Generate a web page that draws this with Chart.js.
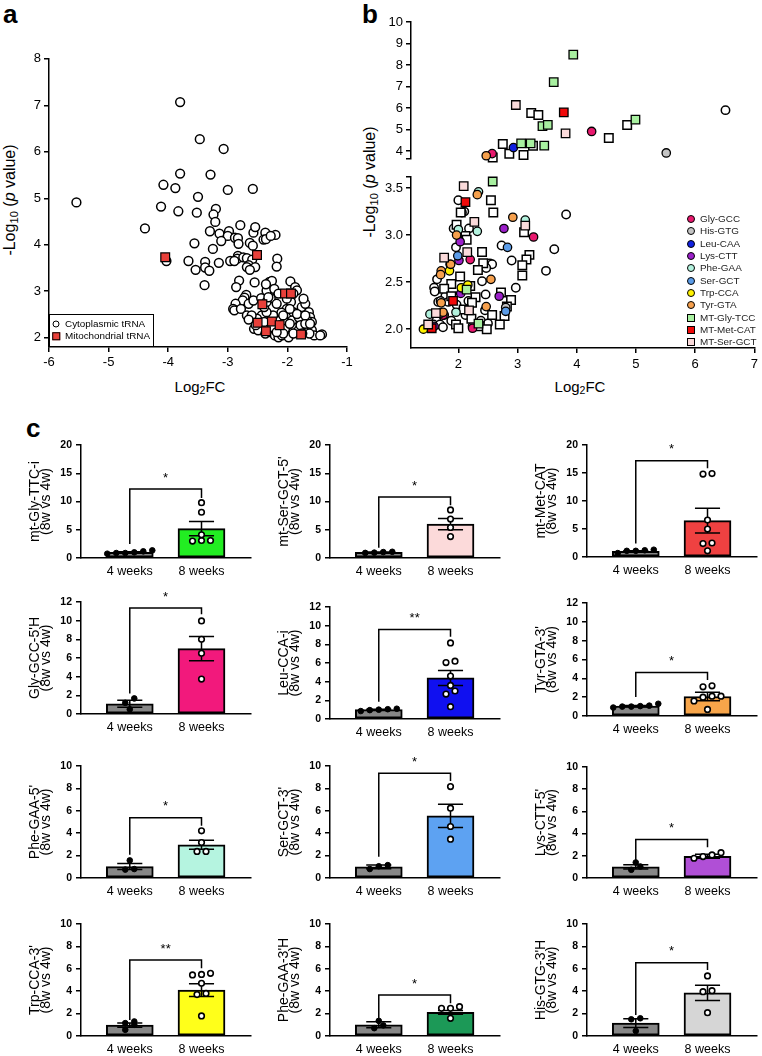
<!DOCTYPE html>
<html>
<head>
<meta charset="utf-8">
<script src="https://cdn.jsdelivr.net/npm/chart.js@4.4.1/dist/chart.umd.min.js"></script>
<style>
  body { margin: 0; background: #fff; font-family: 'Liberation Sans', Arial, Helvetica, sans-serif; color: #000; }
  #page { position: relative; width: 762px; height: 1056px; overflow: hidden; background: #fff; }
  #page canvas { position: absolute; }
  .pl { position: absolute; font-weight: bold; font-size: 26px; line-height: 26px; }
  .yt { position: absolute; white-space: nowrap; font-size: 16px; line-height: 1; transform: translate(-50%, -50%) rotate(-90deg); }
  .xt { position: absolute; white-space: nowrap; font-size: 15px; line-height: 1; transform: translate(-50%, -50%); }
  sub { font-size: 0.7em; vertical-align: -0.25em; line-height: 0; }
  .lg { position: absolute; white-space: nowrap; font-size: 9.9px; line-height: 1; transform: translateY(-50%); }
  .mk { position: absolute; box-sizing: border-box; border: 1.3px solid #000; transform: translate(-50%, -50%); }
</style>
</head>
<body>
<div id="page">
  <div class="pl" style="left:3px;top:1px">a</div>
  <div class="pl" style="left:362px;top:1px">b</div>
  <div class="pl" style="left:26px;top:415px">c</div>
  <div class="yt" style="left:10px;top:200px">-Log<sub>10</sub> (<i>p</i> value)</div>
  <div class="yt" style="left:370px;top:182px">-Log<sub>10</sub> (<i>p</i> value)</div>
  <div class="xt" style="left:200px;top:386px">Log<sub>2</sub>FC</div>
  <div class="xt" style="left:580px;top:386px">Log<sub>2</sub>FC</div>
  <div style="position:absolute;left:49px;top:314px;width:105px;height:33px;border:1px solid #000;box-sizing:border-box;background:#fff"></div>
</div>
<script>
Chart.defaults.font.family = "'Liberation Sans', Arial, Helvetica, sans-serif";
Chart.defaults.color = '#000';
Chart.defaults.animation = false;
Chart.defaults.events = [];

// ---- panel a: down-regulated tRNA fragments (Log2FC, -log10 p)
const cytoplasmicA = [
  [-5.54,4.91],[-4.39,4.35],[-4.12,4.82],[-4.08,5.29],[-3.88,5.22],[-3.80,7.07],[-3.80,5.53],[-3.83,4.72],
  [-3.47,6.27],[-3.50,5.03],[-3.52,4.69],[-3.29,5.51],[-3.07,6.06],[-3.00,5.18],[-2.58,5.20],[-3.20,4.77],
  [-3.24,4.65],[-3.21,4.49],[-3.30,4.29],[-3.14,4.24],[-2.98,4.29],[-3.00,4.19],[-3.11,4.08],[-3.25,3.91],
  [-3.56,4.03],[-3.66,3.65],[-3.54,3.46],[-3.38,3.63],[-3.38,3.51],[-3.31,3.44],[-3.39,3.13],[-3.15,3.61],
  [-4.03,3.65],[-2.79,4.42],[-2.88,4.15],[-2.83,4.14],[-2.82,4.02],[-2.63,4.04],[-2.58,3.98],[-2.57,4.26],
  [-2.54,4.38],[-2.37,4.26],[-2.40,4.11],[-2.36,4.12],[-2.20,4.21],[-2.28,4.19],[-2.83,3.76],[-2.84,3.70],
  [-2.74,3.73],[-2.68,3.71],[-2.59,3.68],[-2.65,3.56],[-2.68,3.52],[-2.54,3.52],[-2.63,3.46],[-2.96,3.65],
  [-2.89,3.65],[-2.17,3.70],[-2.18,3.53],[-2.55,3.19],[-2.81,3.23],[-2.86,3.09],[-2.69,2.92],[-2.72,2.86],
  [-2.75,2.80],[-2.87,2.73],[-2.91,2.62],[-2.89,2.59],[-2.78,2.62],[-2.68,2.48],[-2.65,2.73],[-2.57,2.80],
  [-2.44,2.85],[-2.35,3.01],[-2.30,3.20],[-2.26,3.22],[-2.36,3.15],[-2.22,3.05],[-2.28,2.85],[-2.18,2.73],
  [-1.95,3.21],[-1.87,3.09],[-1.84,3.02],[-1.94,2.77],[-1.76,2.66],[-1.70,2.73],[-1.73,2.84],[-1.64,2.55],
  [-1.62,2.44],[-1.59,2.34],[-1.67,2.37],[-1.76,2.37],[-1.84,2.44],[-1.90,2.55],[-2.01,2.62],[-2.07,2.41],
  [-2.10,2.54],[-2.18,2.37],[-2.28,2.37],[-2.37,2.27],[-2.43,2.48],[-2.51,2.41],[-2.56,2.19],[-2.49,2.16],
  [-2.37,2.09],[-2.29,2.12],[-2.21,2.05],[-2.15,2.01],[-2.09,2.05],[-1.99,2.09],[-1.98,2.01],[-2.07,2.16],
  [-1.96,2.19],[-1.90,2.27],[-1.81,2.16],[-1.73,2.16],[-1.64,2.19],[-1.59,2.16],[-1.55,2.05],[-1.42,2.07],
  [-1.45,2.05],[-2.26,2.23],[-2.12,2.27],[-2.01,2.32],[-1.92,2.37],[-1.81,2.44],[-2.07,2.48],[-2.24,2.48],
  [-2.35,2.55],[-2.01,2.84],[-1.90,2.95],[-2.15,2.95],[-2.39,2.66],[-2.35,2.77],[-2.32,2.87],[-2.60,2.48],
  [-2.65,2.39],[-2.39,2.34],[-2.53,2.27],[-2.04,2.19],[-1.78,2.27],[-1.70,2.30],[-1.63,2.09],[-2.07,2.09],
  [-1.90,2.09],[-1.96,2.30],[-2.18,2.12],[-1.84,2.51],[-1.96,2.62],[-1.70,2.48],[-1.62,2.30],[-1.75,2.09]
];
const mitochondrialA = [
  [-4.05,3.73],[-2.51,3.78],[-2.04,2.95],[-1.94,2.95],[-2.42,2.72],[-2.50,2.32],[-2.26,2.35],[-2.13,2.27],
  [-2.36,2.14],[-1.77,2.07]
];
const xTicksA = [-6, -5, -4, -3, -2, -1];
const yTicksA = [2, 3, 4, 5, 6, 7, 8];

// ---- panel b: up-regulated tRNA fragments
const otherCytoB = [
  [6.51,5.90],[2.00,3.37],[2.10,3.25],[3.82,3.22],[2.18,3.07],[1.92,3.07],[1.96,2.87],[2.73,2.89],[3.62,2.85],
  [2.90,2.73],[2.53,2.70],[2.57,2.69],[2.47,2.65],[1.64,2.53],[3.48,2.62],[2.40,2.51],[1.59,2.44],[2.97,2.44],
  [2.46,2.37],[1.78,2.35],[2.17,2.30],[1.66,2.29],[1.83,2.29],[1.97,2.26],[2.45,2.20],[1.76,2.15],[2.12,2.15],
  [1.88,2.09],[2.38,2.09],[1.63,2.09],[1.58,2.05],[1.69,2.05],[1.74,2.02],[2.50,2.06],[2.24,2.03],[1.60,2.40],
  [1.70,2.30],[2.06,3.24]
];
const otherMtB = [
  [3.23,5.77],[3.35,5.67],[4.85,5.21],[4.54,4.61],[2.75,4.33],[3.26,4.24],[2.86,3.87],[3.10,3.82],[2.58,3.70],
  [2.55,3.37],[2.59,3.24],[2.04,3.24],[1.97,3.11],[2.12,2.99],[2.14,2.95],[3.11,3.03],[2.40,2.82],[3.20,2.79],
  [3.15,2.74],[3.08,2.68],[2.42,2.70],[2.33,2.63],[2.03,2.56],[3.08,2.57],[1.88,2.48],[1.76,2.43],[2.20,2.46],
  [2.72,2.39],[1.88,2.35],[2.29,2.34],[2.89,2.31],[2.23,2.28],[2.82,2.24],[2.09,2.21],[2.57,2.15],[2.78,2.14],
  [2.22,2.11],[1.96,2.05],[2.70,2.05],[2.36,2.03],[2.00,2.01],[2.48,2.00]
];
const glyGCC = [[4.25,4.91],[2.57,3.88],[3.27,2.98],[2.20,2.74],[2.24,2.01],[1.74,2.15]];
const hisGTG = [[5.51,3.91],[2.80,2.23]];
const leuCAA = [[2.93,4.16]];
const lysCTT = [[2.77,3.07],[2.03,2.93],[2.01,2.73],[2.04,2.38],[2.69,2.35],[1.59,2.03]];
const pheGAA = [[2.34,3.46],[3.13,3.16],[2.32,3.04],[2.00,3.06],[1.52,2.16],[1.96,2.18],[1.70,2.17]];
const serGCT = [[2.83,2.87],[1.99,2.78],[2.80,2.19]];
const trpCCA = [[1.86,2.69],[1.85,2.62],[2.05,2.44],[2.16,2.47],[1.41,2.00]];
const tyrGTA = [[2.47,3.78],[2.32,3.43],[2.92,3.19],[1.97,3.00],[1.87,2.69],[1.71,2.62],[1.70,2.58],[2.55,2.53],
  [1.71,2.28],[2.47,2.24],[1.74,2.18]];
const mtGlyTCC = [[3.94,8.48],[3.61,7.20],[3.42,5.16],[3.51,5.22],[4.99,5.46],[3.06,4.36],[3.22,4.36],[3.45,4.25],
  [2.58,3.57],[2.14,2.42],[2.34,2.06]];
const mtMetCAT = [[3.78,5.80],[2.12,3.35],[1.91,2.30],[1.55,2.01]];
const mtSerGCT = [[2.97,6.14],[3.81,4.82],[2.09,3.52],[2.27,3.14],[3.13,3.10],[2.15,2.82],[1.76,2.76],[2.18,2.20],
  [1.62,2.17],[1.49,2.05]];
const bNames = ['Gly-GCC','His-GTG','Leu-CAA','Lys-CTT','Phe-GAA','Ser-GCT','Trp-CCA','Tyr-GTA','MT-Gly-TCC','MT-Met-CAT','MT-Ser-GCT'];
const bGroups = [glyGCC, hisGTG, leuCAA, lysCTT, pheGAA, serGCT, trpCCA, tyrGTA, mtGlyTCC, mtMetCAT, mtSerGCT];
const bColors = ['#E8196E','#C4C4C4','#1020E0','#9B1FC9','#B3F2DE','#5B9CE8','#FFF200','#F6A04D','#A8F0A0','#F00A0A','#FADADA'];
const bShapes = ['circle','circle','circle','circle','circle','circle','circle','circle','rect','rect','rect'];
const xTicksB = [2, 3, 4, 5, 6, 7];
const yTicksUpper = [4, 5, 6, 7, 8, 9, 10];
const yTicksLower = [2.0, 2.5, 3.0, 3.5];
const breakB = 3.62;

// ---- panel c: fold change 8w vs 4w
const cNames = ['mt-Gly-TTC-i', "mt-Ser-GCT-5'", 'mt-Met-CAT', "Gly-GCC-5'H", 'Leu-CCA-i', "Tyr-GTA-3'",
  "Phe-GAA-5'", "Ser-GCT-3'", "Lys-CTT-5'", "Trp-CCA-3'", "Phe-GAA-3'H", "His-GTG-3'H"];
const cColors = ['#22EE22','#FCDADA','#EF4141','#F2197C','#1010F0','#F7A54A',
  '#B5F4E0','#5DA2F2','#B04FD6','#FFFF1A','#1C9957','#D6D6D6'];
const groups = ['4 weeks', '8 weeks'];
const week4 = [
  [0.88,1.35,1.0,1.18,0.88,0.76],[0.9,1.05,1.1,0.95],[0.7,1.3,1.1,1.2,1.1],
  [1.67,1.2,0.5],[1.1,0.85,1.0,1.05,0.95],[1.0,1.3,0.9,1.0,1.1,1.05],
  [1.57,0.75,0.8],[1.15,0.8,1.05],[1.4,0.74,1.04],
  [1.3,1.15,0.55,1.0],[1.35,0.7,0.95],[1.58,1.49,0.45]
];
const week8 = [
  [9.8,8.1,4.1,3.1,3.1,3.0],[8.5,6.9,5.4,3.8],[14.8,14.9,6.6,5.0,2.5,2.4,1.1],
  [9.97,8.0,6.5,3.74],[8.15,6.2,6.05,4.6,3.0,2.67,1.32,3.6],[3.1,3.2,2.1,2.0,2.1,0.7,1.6],
  [4.21,3.17,2.37,2.37],[8.16,6.23,4.6,3.47],[1.93,2.08,2.28,1.78],
  [5.45,5.6,5.5,4.7,3.8,3.7,1.79],[2.62,2.47,2.47,1.58],[5.36,4.05,3.96,2.08]
];
const mean4 = [1.0,1.0,1.0, 1.1,1.0,1.05, 1.02,1.0,1.0, 0.97,1.0,1.15];
const sem4  = [0.1,0.05,0.1, 0.37,0.05,0.06, 0.27,0.17,0.2, 0.18,0.27,0.38];
const mean8 = [5.2,6.0,6.5, 7.0,4.4,2.07, 2.97,5.55,1.96, 4.1,2.11,3.85];
const sem8  = [1.25,1.0,2.2, 1.3,0.8,0.45, 0.4,1.04,0.18, 0.57,0.16,0.68];
const bracket = [ // [left leg end, top, right leg end]
  [2.5,12.2,10.6],[1.8,10.8,9.35],[2.4,17.2,15.85],
  [2.2,11.36,10.68],[1.85,9.58,8.8],[2.03,4.63,3.81],
  [2.08,5.37,4.66],[1.9,9.35,8.66],[1.63,3.47,2.76],
  [1.43,6.79,6.04],[1.6,3.66,2.92],[1.88,6.55,5.89]
];
const stars = ['*','*','*','*','**','*','*','*','*','**','*','*'];
const rowMax = [20, 12, 10, 10];
const rowStep = [5, 2, 2, 2];

// layout of panel c plots (px)
const colAxisX = [81, 330, 587];
const areaTop = [445,445,445, 602,607,603, 766,766,767, 924,924,924];
const areaBottom = [558,558,557, 714,719,716, 878,878,878, 1036,1036,1036];

const page = document.getElementById('page');
const FONT = "'Liberation Sans', Arial, Helvetica, sans-serif";

function makeCanvas(left, top, w, h) {
  const cv = document.createElement('canvas');
  cv.width = w; cv.height = h;
  cv.style.left = left + 'px'; cv.style.top = top + 'px';
  cv.style.width = w + 'px'; cv.style.height = h + 'px';
  page.appendChild(cv);
  return cv;
}

function axisLook(tickLen, show) {
  return {
    border: { display: true, color: '#000', width: 1.5 },
    grid: { display: true, drawOnChartArea: false, drawTicks: show, tickLength: tickLen, color: '#000', lineWidth: 1.5, offset: false }
  };
}

const pts = arr => arr.map(p => ({ x: p[0], y: p[1] }));

// ---------------- panel a
new Chart(makeCanvas(0, 48, 360, 320), {
  type: 'scatter',
  data: {
    datasets: [
      { data: pts(mitochondrialA), pointStyle: 'rect', pointRadius: 6.2, backgroundColor: '#E8403A', borderColor: '#000', borderWidth: 1.2, order: 1 },
      { data: pts(cytoplasmicA), pointStyle: 'circle', pointRadius: 4.4, backgroundColor: '#fff', borderColor: '#000', borderWidth: 1.5, order: 2 }
    ]
  },
  options: {
    responsive: false, devicePixelRatio: 1,
    layout: { padding: { top: 10, right: 13, left: 0, bottom: 0 } },
    plugins: { legend: { display: false }, tooltip: { enabled: false } },
    scales: {
      x: { type: 'linear', min: -6, max: -1, ...axisLook(5, true),
        afterBuildTicks: s => { s.ticks = xTicksA.map(v => ({ value: v })); },
        ticks: { font: { size: 13 }, padding: 3, maxRotation: 0 },
        afterFit: s => { s.height = 21; } },
      y: { type: 'linear', min: 1.8, max: 8, ...axisLook(5, true),
        afterBuildTicks: s => { s.ticks = yTicksA.map(v => ({ value: v })); },
        ticks: { font: { size: 13 }, padding: 3 },
        afterFit: s => { s.width = 49; } }
    }
  }
});

// legend a
[['circle', '#fff', 'Cytoplasmic tRNA', 324, 7], ['rect', '#E8403A', 'Mitochondrial tRNA', 336, 7.5]].forEach(([shape, col, txt, y, sz]) => {
  const m = document.createElement('div');
  m.className = 'mk';
  m.style.cssText = `left:56px;top:${y}px;width:${sz}px;height:${sz}px;background:${col};border-radius:${shape === 'circle' ? '50%' : '0'}`;
  page.appendChild(m);
  const t = document.createElement('div');
  t.className = 'lg'; t.style.left = '65px'; t.style.top = y + 'px'; t.textContent = txt;
  page.appendChild(t);
});

// ---------------- panel b (broken y axis: two stacked charts)
function bDatasets(keep) {
  const ds = [
    { data: pts(otherCytoB.filter(keep)), pointStyle: 'circle', pointRadius: 4.2, backgroundColor: '#fff', borderColor: '#000', borderWidth: 1.5, order: 14, clip: false },
    { data: pts(otherMtB.filter(keep)), pointStyle: 'rect', pointRadius: 6, backgroundColor: '#fff', borderColor: '#000', borderWidth: 1.5, order: 13, clip: false }
  ];
  bGroups.forEach((g, i) => ds.push({
    data: pts(g.filter(keep)), pointStyle: bShapes[i], pointRadius: bShapes[i] === 'rect' ? 6 : 4.2,
    backgroundColor: bColors[i], borderColor: '#000', borderWidth: 1.3, order: 12 - i, clip: false
  }));
  return ds;
}

new Chart(makeCanvas(360, 10, 402, 160), {
  type: 'scatter',
  data: { datasets: bDatasets(p => p[1] >= breakB) },
  options: {
    responsive: false, devicePixelRatio: 1,
    layout: { padding: { top: 12, right: 4, left: 0, bottom: 5 } },
    plugins: { legend: { display: false }, tooltip: { enabled: false } },
    scales: {
      x: { type: 'linear', min: 1.2, max: 7, display: false },
      y: { type: 'linear', min: breakB, max: 10, ...axisLook(5, true),
        afterBuildTicks: s => { s.ticks = [breakB, ...yTicksUpper].map(v => ({ value: v })); },
        ticks: { font: { size: 13 }, padding: 3, callback: v => v === breakB ? '' : v },
        afterFit: s => { s.width = 51; } }
    }
  }
});

new Chart(makeCanvas(360, 166, 402, 210), {
  type: 'scatter',
  data: { datasets: bDatasets(p => p[1] < breakB) },
  options: {
    responsive: false, devicePixelRatio: 1,
    layout: { padding: { top: 8, right: 4, left: 0, bottom: 0 } },
    plugins: { legend: { display: false }, tooltip: { enabled: false } },
    scales: {
      x: { type: 'linear', min: 1.2, max: 7, ...axisLook(5, true),
        afterBuildTicks: s => { s.ticks = xTicksB.map(v => ({ value: v })); },
        ticks: { font: { size: 13 }, padding: 4, maxRotation: 0 },
        afterFit: s => { s.height = 28; } },
      y: { type: 'linear', min: 1.8, max: breakB, ...axisLook(5, true),
        afterBuildTicks: s => { s.ticks = [...yTicksLower, breakB].map(v => ({ value: v })); },
        ticks: { font: { size: 13 }, padding: 3, callback: v => v === breakB ? '' : v.toFixed(1) },
        afterFit: s => { s.width = 51; } }
    }
  }
});

// legend b
bNames.forEach((name, i) => {
  const y = 219 + i * 12.33;
  const m = document.createElement('div');
  m.className = 'mk';
  m.style.cssText = `left:691px;top:${y}px;width:8px;height:8px;background:${bColors[i]};border-radius:${bShapes[i] === 'circle' ? '50%' : '0'}`;
  page.appendChild(m);
  const t = document.createElement('div');
  t.className = 'lg'; t.style.left = '700px'; t.style.top = y + 'px'; t.style.color = '#222'; t.textContent = name;
  page.appendChild(t);
});

// ---------------- panel c
const X_PER_UNIT = 71.7;

// spread replicate points horizontally when they overlap (simple beeswarm)
function swarm(vals, center, yPx) {
  const gap = 9;
  const idx = vals.map((v, i) => i).sort((a, b) => vals[a] - vals[b]);
  const clusters = [];
  idx.forEach(i => {
    const last = clusters[clusters.length - 1];
    if (last && (vals[i] - vals[last[0]]) * yPx < 6) last.push(i); else clusters.push([i]);
  });
  const out = [];
  clusters.forEach(cl => cl.forEach((i, j) => out.push({ x: center + (j - (cl.length - 1) / 2) * gap / X_PER_UNIT, y: vals[i] })));
  return out;
}

function errBar(c, m, s) {
  const w = 0.175;
  return [
    { x: c - w, y: m + s }, { x: c + w, y: m + s }, { x: c, y: null },
    { x: c, y: m + s }, { x: c, y: m - s }, { x: c + w, y: null },
    { x: c - w, y: m - s }, { x: c + w, y: m - s }
  ];
}

const starPlugin = {
  id: 'stars',
  afterDatasetsDraw(chart, args, opts) {
    const { ctx, scales: { x, y } } = chart;
    ctx.save();
    ctx.font = `13px ${FONT}`;
    ctx.fillStyle = '#000';
    ctx.textAlign = 'center';
    ctx.textBaseline = 'middle';
    ctx.fillText(opts.text, x.getPixelForValue(0.5), y.getPixelForValue(opts.level) - 11);
    ctx.restore();
  }
};

cNames.forEach((name, i) => {
  const col = i % 3, row = Math.floor(i / 3);
  const yMax = rowMax[row];
  const top = areaTop[i], bottom = areaBottom[i];
  const cTop = top - 34;
  const cv = makeCanvas(colAxisX[col] - 78, cTop, 256, bottom - cTop + 26);
  const yPx = (bottom - top) / yMax;
  const [legL, brTop, legR] = bracket[i];

  new Chart(cv, {
    type: 'bar',
    data: {
      datasets: [
        { type: 'bar', data: [{ x: 0, y: mean4[i] }, { x: 1, y: mean8[i] }],
          backgroundColor: ['#878787', cColors[i]], borderColor: '#000', borderWidth: 2,
          borderSkipped: false, barThickness: 47, order: 5 },
        { type: 'line', data: [...errBar(0, mean4[i], sem4[i]), { x: 0.5, y: null }, ...errBar(1, mean8[i], sem8[i])],
          borderColor: '#000', borderWidth: 1.5, pointRadius: 0, spanGaps: false, order: 3, clip: false },
        { type: 'line', data: [{ x: 0, y: legL }, { x: 0, y: brTop }, { x: 1, y: brTop }, { x: 1, y: legR }],
          borderColor: '#000', borderWidth: 1.5, pointRadius: 0, order: 3, clip: false },
        { type: 'line', data: swarm(week4[i], 0, yPx), showLine: false, pointRadius: 2.8,
          pointBackgroundColor: '#000', pointBorderColor: '#000', pointBorderWidth: 1, order: 1, clip: false },
        { type: 'line', data: swarm(week8[i], 1, yPx), showLine: false, pointRadius: 2.8,
          pointBackgroundColor: '#fff', pointBorderColor: '#000', pointBorderWidth: 1.6, order: 1, clip: false }
      ]
    },
    options: {
      responsive: false, devicePixelRatio: 1,
      layout: { padding: { top: 34, right: 8, left: 0, bottom: 0 } },
      plugins: { legend: { display: false }, tooltip: { enabled: false }, stars: { text: stars[i], level: brTop } },
      scales: {
        x: { type: 'linear', min: -0.68, max: 1.69, offset: false, ...axisLook(0, false),
          afterBuildTicks: s => { s.ticks = [{ value: 0 }, { value: 1 }]; },
          ticks: { font: { size: 12.5 }, padding: 6, maxRotation: 0, callback: v => groups[v] },
          afterFit: s => { s.height = 26; } },
        y: { type: 'linear', min: 0, max: yMax, ...axisLook(5, true),
          ticks: { stepSize: rowStep[row], font: { size: 10.5, weight: 'bold' }, padding: 4 },
          title: { display: true, text: [name, '(8w vs 4w)'], font: { size: 14, lineHeight: 0.82 }, padding: { top: 26, bottom: 0 } },
          afterFit: s => { s.width = 78; } }
      }
    },
    plugins: [starPlugin]
  });
});
</script>
</body>
</html>
